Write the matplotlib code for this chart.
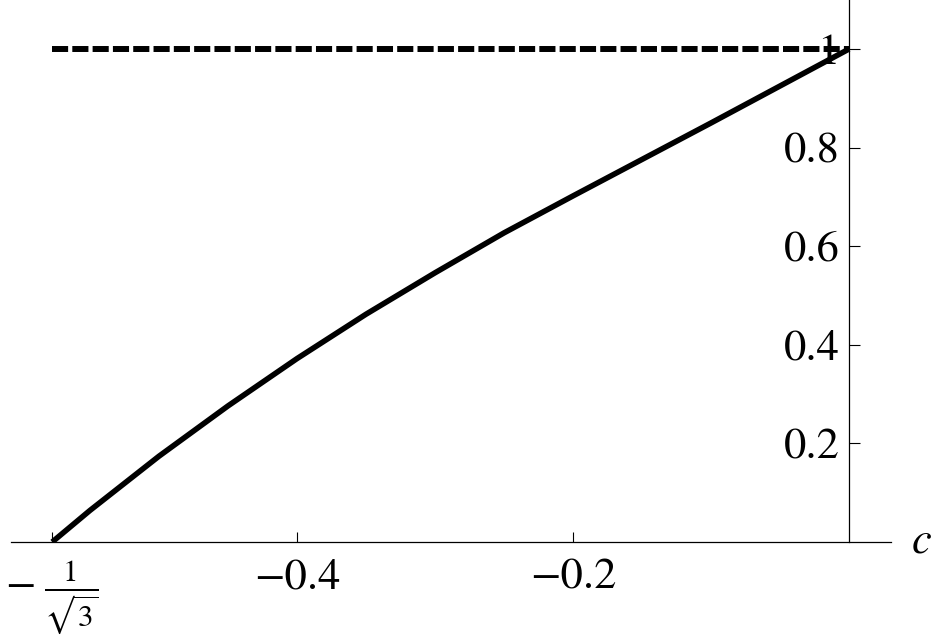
import matplotlib
matplotlib.use('Agg')
import matplotlib.pyplot as plt
import numpy as np

# 曲線の値
c_values = [-1 / np.sqrt(3), -0.55, -0.5, -0.45, -0.4, -0.35, -0.3, -0.25,
            -0.2, -0.15, -0.1, -0.05, 0.0]
y_values = [0.0, 0.064, 0.174, 0.276, 0.372, 0.462, 0.546, 0.627,
            0.702, 0.776, 0.850, 0.925, 1.0]

# 破線 (y = 1)
dash_c = [-1 / np.sqrt(3), 0.0]
dash_y = [1.0, 1.0]

# 目盛り
x_ticks = [-1 / np.sqrt(3), -0.4, -0.2]
x_tick_labels = [r'$-\;\frac{1}{\sqrt{3}}$', '\u22120.4', '\u22120.2']
y_ticks = [0.2, 0.4, 0.6, 0.8, 1.0]
y_tick_labels = ['0.2', '0.4', '0.6', '0.8', '1']

plt.rcParams['font.family'] = 'STIXGeneral'
plt.rcParams['mathtext.fontset'] = 'stix'

fig = plt.figure(figsize=(9.34, 6.37), dpi=100)
ax = fig.add_axes([11 / 934, 1 - 542 / 637, 880 / 934, 542 / 637])

ax.plot(c_values, y_values, color='black', linewidth=4.0,
        solid_capstyle='butt', solid_joinstyle='round')
line, = ax.plot(dash_c, dash_y, color='black', linewidth=4.3, dash_capstyle='butt')
line.set_dashes((2.7, 0.7))

ax.set_xlim(-0.6072, 0.0304)
ax.set_ylim(0, 1.0994)

# 軸の設定
ax.spines['top'].set_visible(False)
ax.spines['right'].set_visible(False)
ax.spines['left'].set_position(('data', 0))
ax.spines['left'].set_linewidth(0.9)
ax.spines['bottom'].set_linewidth(0.9)

ax.set_xticks(x_ticks)
ax.set_xticklabels(x_tick_labels)
ax.set_yticks(y_ticks)
ax.set_yticklabels(y_tick_labels)
ax.tick_params(axis='x', direction='in', length=7, width=0.8, pad=12, labelsize=32)
ax.tick_params(axis='y', direction='in', length=8, width=0.8, pad=7, labelsize=32)

ax.text(1.035, 0, 'c', transform=ax.transAxes, fontsize=32, fontstyle='italic',
        ha='center', va='center')

fig.savefig('out.png', dpi=100)
